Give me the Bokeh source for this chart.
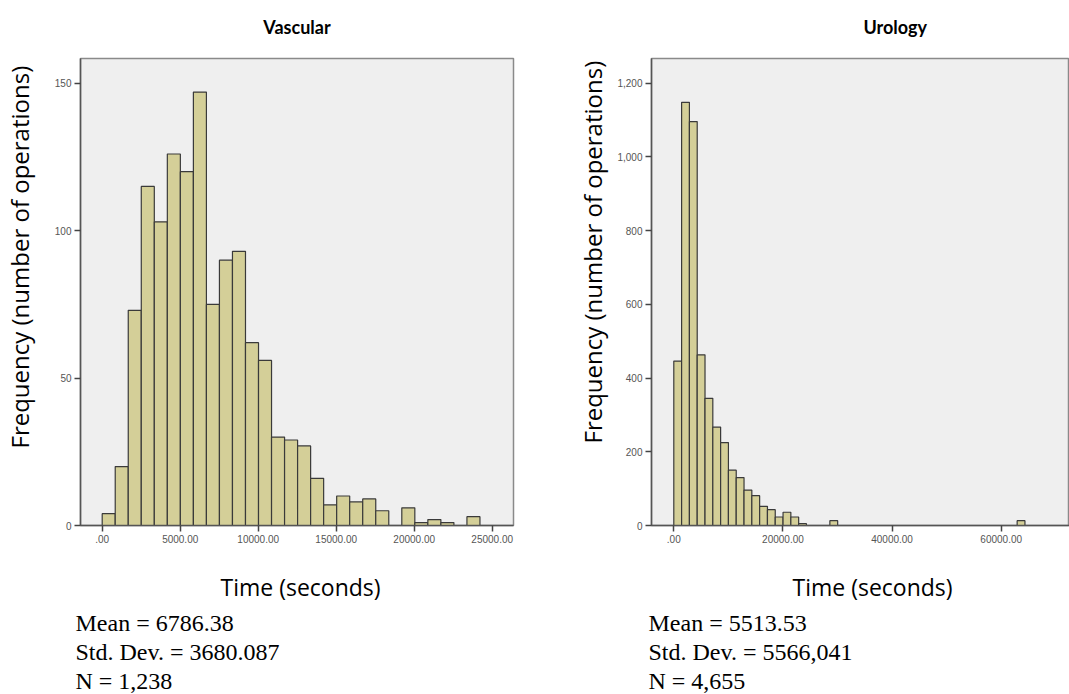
from bokeh.plotting import figure
from bokeh.layouts import row
from bokeh.models import FixedTicker, Range1d, Title
from bokeh.embed import file_html
from bokeh.resources import INLINE

# ---------------- data ----------------
vasc_title = "Vascular"
vasc_bin_start = 0
vasc_bin_width = 835
vasc_counts = [4, 20, 73, 115, 103, 126, 120, 147, 75, 90, 93, 62, 56, 30, 29,
               27, 16, 7, 10, 8, 9, 5, 0, 6, 1, 2, 1, 0, 3]
vasc_xticks = [0, 5000, 10000, 15000, 20000, 25000]
vasc_xlabels = [".00", "5000.00", "10000.00", "15000.00", "20000.00", "25000.00"]
vasc_yticks = [0, 50, 100, 150]
vasc_ylabels = ["0", "50", "100", "150"]
vasc_stats = ["Mean = 6786.38", "Std. Dev. = 3680.087", "N = 1,238"]

uro_title = "Urology"
uro_bin_start = 0
uro_bin_width = 1430
uro_counts = [446, 1148, 1096, 463, 345, 267, 225, 150, 130, 96, 81, 52, 43, 23, 36,
              23, 5, 0, 0, 0, 13, 0, 0, 0, 0, 0, 0, 0, 0, 0,
              0, 0, 0, 0, 0, 0, 0, 0, 0, 0, 0, 0, 0, 0, 13]
uro_xticks = [0, 20000, 40000, 60000]
uro_xlabels = [".00", "20000.00", "40000.00", "60000.00"]
uro_yticks = [0, 200, 400, 600, 800, 1000, 1200]
uro_ylabels = ["0", "200", "400", "600", "800", "1,000", "1,200"]
uro_stats = ["Mean = 5513.53", "Std. Dev. = 5566,041", "N = 4,655"]

x_title = "Time (seconds)"
y_title = "Frequency (number of operations)"

# ---------------- style ----------------
BAR_FILL = "#D4CF98"
BAR_LINE = "#3a3a3a"
BG = "#EFEFEF"
HEAD_FONT = "Lato"
SANS = "Open Sans"
SERIF = "Liberation Serif"
TICK_FONT = "Liberation Sans"
H = 694


def make_hist(counts, start, width, xr, yr, xticks, xlabels, yticks, ylabels,
              fig_w, bl, br, bt, frame_h):
    p = figure(width=fig_w, height=H, output_backend="svg", toolbar_location=None,
               x_range=Range1d(*xr), y_range=Range1d(*yr),
               min_border_left=bl, min_border_right=br, min_border_top=bt,
               min_border_bottom=H - bt - frame_h)
    p.title.text = ""
    p.background_fill_color = BG
    p.border_fill_color = "white"
    p.grid.visible = False
    p.outline_line_color = "#8a8a8a"
    p.outline_line_width = 1.5
    lefts = [start + i * width for i in range(len(counts))]
    rights = [l + width for l in lefts]
    xs_l = [l for l, c in zip(lefts, counts) if c > 0]
    xs_r = [r for r, c in zip(rights, counts) if c > 0]
    tops = [c for c in counts if c > 0]
    p.quad(left=xs_l, right=xs_r, bottom=0, top=tops, fill_color=BAR_FILL,
           line_color=BAR_LINE, line_width=1.2)
    for ax, ticks, labels in ((p.xaxis[0], xticks, xlabels), (p.yaxis[0], yticks, ylabels)):
        ax.ticker = FixedTicker(ticks=ticks)
        ax.major_label_overrides = {t: l for t, l in zip(ticks, labels)}
        ax.minor_tick_line_color = None
        ax.major_tick_out = 6
        ax.major_tick_in = 0
        ax.major_tick_line_color = "#444444"
        ax.major_tick_line_width = 1.5
        ax.axis_line_color = "#555555"
        ax.axis_line_width = 1.5
        ax.major_label_text_font = TICK_FONT
        ax.major_label_text_font_size = "10px"
        ax.major_label_text_color = "#555555"
        ax.major_label_standoff = 3
    return p


def add_title(p, side, text, font, size, style, align, offset, standoff):
    t = Title(text=text, text_font=font, text_font_size=f"{size}px",
              text_font_style=style, text_color="black", align=align,
              offset=offset, standoff=standoff)
    p.add_layout(t, side)


def add_gap(p, side, gap):
    # invisible spacer in a side panel
    add_title(p, side, " ", SANS, 1, "normal", "left", 0, gap)


# left figure: frame x 80..513, y 58..525
v_xr = (-1391, 26365)
v_yr = (0, 158.4)
p1 = make_hist(vasc_counts, vasc_bin_start, vasc_bin_width, v_xr, v_yr,
               vasc_xticks, vasc_xlabels, vasc_yticks, vasc_ylabels,
               fig_w=568, bl=80, br=55, bt=58, frame_h=467)

# right figure: frame x 651..1069, y 58..527
u_xr = (-4087, 72514)
u_yr = (0, 1267)
p2 = make_hist(uro_counts, uro_bin_start, uro_bin_width, u_xr, u_yr,
               uro_xticks, uro_xlabels, uro_yticks, uro_ylabels,
               fig_w=501, bl=83, br=0, bt=58, frame_h=469)

# headings
add_gap(p1, "above", 18)
add_title(p1, "above", vasc_title, HEAD_FONT, 18, "bold", "center", 0, 0)
add_gap(p2, "above", 18)
add_title(p2, "above", uro_title, HEAD_FONT, 18, "bold", "left", 212, 0)

# y titles (rotated, in left panels)
add_gap(p1, "left", 13)
add_title(p1, "left", y_title, SANS, 24, "normal", "left", 77, 0)
add_gap(p2, "left", 3)
add_title(p2, "left", y_title, SANS, 24, "normal", "left", 82, 0)

# x titles and statistics lines
for p, stats, off_x, off_s in ((p1, vasc_stats, 140, -5), (p2, uro_stats, 141, -3)):
    add_gap(p, "below", 16)
    add_title(p, "below", x_title, SANS, 23, "normal", "left", off_x, 8)
    for txt, so in zip(stats, [2, 1, 1]):
        add_title(p, "below", txt, SERIF, 24, "normal", "left", off_s, so)

layout = row(p1, p2, spacing=0)
open("out.html", "w").write(file_html(layout, INLINE))
